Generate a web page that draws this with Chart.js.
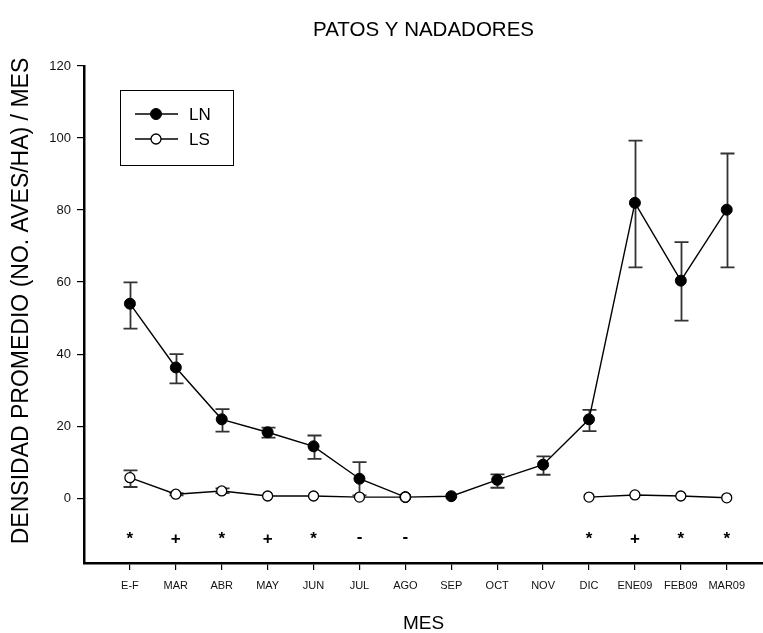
<!DOCTYPE html>
<html>
<head>
<meta charset="utf-8">
<script src="https://cdn.jsdelivr.net/npm/chart.js@4/dist/chart.umd.min.js"></script>
<style>
  html, body { margin: 0; padding: 0; background: #fff; }
  #wrap { width: 763px; height: 633px; }
</style>
</head>
<body>
<div id="wrap"><canvas id="chart" width="763" height="633"></canvas></div>
<script>
// Monthly mean density (birds/ha) of ducks and swimmers at two sites
const categories = ['E-F', 'MAR', 'ABR', 'MAY', 'JUN', 'JUL', 'AGO', 'SEP', 'OCT', 'NOV', 'DIC', 'ENE09', 'FEB09', 'MAR09'];

const lnMean = [54.0, 36.3, 21.9, 18.3, 14.4, 5.4, 0.3, 0.55, 5.1, 9.3, 21.9, 82.0, 60.4, 80.1];
const lnHigh = [59.9, 40.0, 24.7, 19.6, 17.4, 10.0, null, null, 6.6, 11.6, 24.5, 99.3, 71.1, 95.7];
const lnLow  = [47.1, 31.9, 18.5, 16.8, 10.9, 0.8, null, null, 2.9, 6.5, 18.6, 64.1, 49.3, 64.1];

const lsMean = [5.7, 1.1, 2.0, 0.6, 0.6, 0.3, 0.3, null, null, null, 0.3, 0.9, 0.6, 0.1];
const lsHigh = [7.7, 1.4, 2.7, null, null, null, null, null, null, null, null, null, null, null];
const lsLow  = [3.1, 0.8, 1.4, null, null, null, null, null, null, null, null, null, null, null];

// Significance of the LN vs LS difference for each month
const significance = ['*', '+', '*', '+', '*', '-', '-', '', '', '', '*', '+', '*', '*'];
const significanceLevel = -11;

const yTicks = [0, 20, 40, 60, 80, 100, 120];

const FONT = "'Liberation Sans', Arial, sans-serif";

const toPoints = arr => arr.map((v, i) => ({ x: i + 1, y: v }));

// Vertical error bars with caps, drawn under the markers
const errorBars = {
  id: 'errorBars',
  beforeDatasetsDraw(chart) {
    const { ctx, scales: { x, y } } = chart;
    ctx.save();
    ctx.strokeStyle = '#333';
    ctx.lineWidth = 1.8;
    chart.data.datasets.forEach(ds => {
      if (!ds.errHigh) return;
      ds.errHigh.forEach((hi, i) => {
        const lo = ds.errLow[i];
        if (hi == null || lo == null) return;
        const px = Math.round(x.getPixelForValue(i + 1)) + 0.5;
        const pHi = y.getPixelForValue(hi);
        const pLo = y.getPixelForValue(lo);
        ctx.beginPath();
        ctx.moveTo(px, pHi); ctx.lineTo(px, pLo);
        ctx.moveTo(px - 7, pHi); ctx.lineTo(px + 7, pHi);
        ctx.moveTo(px - 7, pLo); ctx.lineTo(px + 7, pLo);
        ctx.stroke();
      });
    });
    ctx.restore();
  }
};

// Titles, significance marks and the boxed legend
const annotations = {
  id: 'annotations',
  afterDraw(chart) {
    const { ctx, chartArea, scales: { x, y } } = chart;
    const cx = (chartArea.left + chartArea.right) / 2;
    ctx.save();
    ctx.fillStyle = '#000';

    // Chart title
    ctx.font = `20.5px ${FONT}`;
    ctx.textAlign = 'center';
    ctx.textBaseline = 'middle';
    ctx.fillText('PATOS Y NADADORES', cx, 30);

    // X axis title
    ctx.font = `19px ${FONT}`;
    ctx.fillText('MES', cx, 624);

    // Y axis title
    ctx.save();
    ctx.translate(22, 301);
    ctx.rotate(-Math.PI / 2);
    ctx.font = `23px ${FONT}`;
    ctx.fillText('DENSIDAD PROMEDIO (NO. AVES/HA) / MES', 0, 0);
    ctx.restore();

    // Significance marks
    ctx.font = `bold 17px ${FONT}`;
    const sy = y.getPixelForValue(significanceLevel);
    significance.forEach((s, i) => {
      if (!s) return;
      ctx.fillText(s, x.getPixelForValue(i + 1), sy + (s === '-' ? 0 : 2));
    });

    // Legend
    ctx.lineWidth = 1;
    ctx.strokeStyle = '#000';
    ctx.strokeRect(120.5, 90.5, 113, 75);
    const rows = [
      { label: 'LN', y: 114, ds: chart.data.datasets[0] },
      { label: 'LS', y: 139, ds: chart.data.datasets[1] }
    ];
    rows.forEach(r => {
      ctx.beginPath();
      ctx.lineWidth = 1.3;
      ctx.moveTo(135, r.y); ctx.lineTo(178, r.y);
      ctx.stroke();
      ctx.beginPath();
      ctx.arc(156, r.y, r.ds.pointRadius, 0, Math.PI * 2);
      ctx.fillStyle = r.ds.pointBackgroundColor;
      ctx.fill();
      ctx.lineWidth = r.ds.pointBorderWidth;
      ctx.strokeStyle = r.ds.pointBorderColor;
      ctx.stroke();
      ctx.fillStyle = '#000';
      ctx.strokeStyle = '#000';
      ctx.font = `17px ${FONT}`;
      ctx.textAlign = 'left';
      ctx.fillText(r.label, 189, r.y + 1);
    });
    ctx.restore();
  }
};

new Chart(document.getElementById('chart'), {
  type: 'line',
  data: {
    datasets: [
      {
        label: 'LN',
        data: toPoints(lnMean),
        errHigh: lnHigh,
        errLow: lnLow,
        borderColor: '#000',
        borderWidth: 1.4,
        pointRadius: 5.5,
        pointBackgroundColor: '#000',
        pointBorderColor: '#000',
        pointBorderWidth: 1,
        spanGaps: false,
        order: 1
      },
      {
        label: 'LS',
        data: toPoints(lsMean),
        errHigh: lsHigh,
        errLow: lsLow,
        borderColor: '#000',
        borderWidth: 1.4,
        pointRadius: 5,
        pointBackgroundColor: '#fff',
        pointBorderColor: '#000',
        pointBorderWidth: 1.3,
        spanGaps: false,
        order: 0
      }
    ]
  },
  options: {
    responsive: false,
    devicePixelRatio: 1,
    animation: false,
    layout: { autoPadding: false, padding: { top: 66, right: 0, left: 0, bottom: 0 } },
    plugins: {
      legend: { display: false },
      title: { display: false },
      tooltip: { enabled: false }
    },
    elements: { line: { tension: 0 } },
    scales: {
      x: {
        type: 'linear',
        min: 0,
        max: 14.79,
        afterBuildTicks(scale) {
          scale.ticks = categories.map((_, i) => ({ value: i + 1 }));
        },
        afterFit(scale) {
          scale.height = 70;
          scale.paddingLeft = 0;
          scale.paddingRight = 0;
        },
        ticks: {
          autoSkip: false,
          maxRotation: 0,
          padding: 9,
          color: '#111',
          font: { family: FONT, size: 11 },
          callback: v => categories[v - 1] ?? ''
        },
        grid: {
          drawOnChartArea: false,
          drawTicks: true,
          tickLength: 7,
          color: '#000',
          lineWidth: 1.2
        },
        border: { display: true, color: '#000', width: 2.5 }
      },
      y: {
        type: 'linear',
        min: -18,
        max: 120,
        afterBuildTicks(scale) {
          scale.ticks = yTicks.map(v => ({ value: v }));
        },
        afterFit(scale) {
          scale.width = 84;
          scale.paddingTop = 0;
          scale.paddingBottom = 0;
        },
        ticks: {
          padding: 6,
          color: '#111',
          font: { family: FONT, size: 13 }
        },
        grid: {
          drawOnChartArea: false,
          drawTicks: true,
          tickLength: 7,
          color: '#000',
          lineWidth: 1.2
        },
        border: { display: true, color: '#000', width: 2.5 }
      }
    }
  },
  plugins: [errorBars, annotations]
});
</script>
</body>
</html>
